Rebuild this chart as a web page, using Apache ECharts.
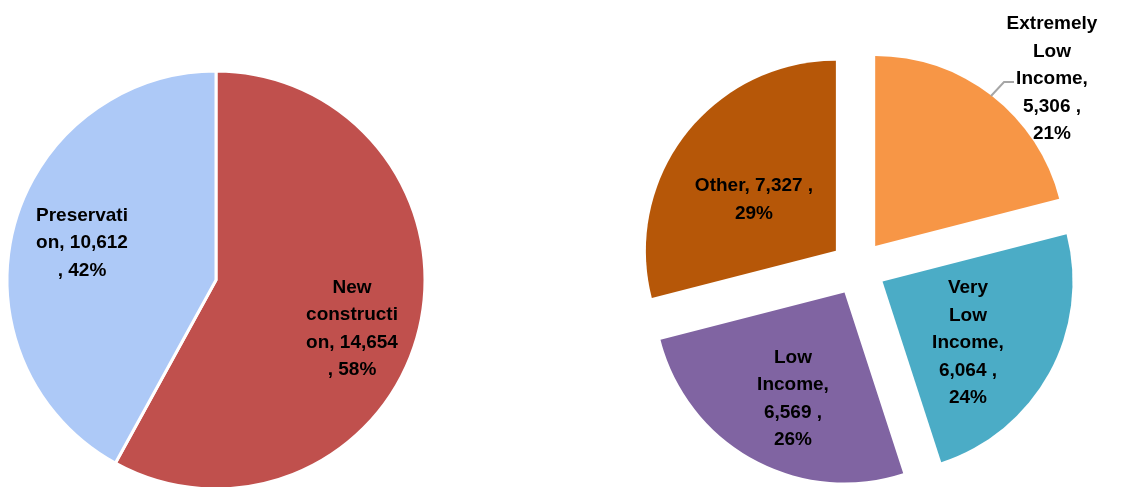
<!DOCTYPE html>
<html>
<head>
<meta charset="utf-8">
<script src="https://cdn.jsdelivr.net/npm/echarts@6/dist/echarts.min.js"></script>
<style>
html,body{margin:0;padding:0;background:#fff;}
#chart{width:1123px;height:487px;}
</style>
</head>
<body>
<div id="chart"></div>
<script>
// Left pie: construction type
const typeNames = ['New construction', 'Preservation'];
const typeValues = [14654, 10612];
const typePercents = [58, 42];
const typeLabelLines = [
  ['New', 'constructi', 'on, 14,654', ', 58%'],
  ['Preservati', 'on, 10,612', ', 42%']
];
// Right pie: income level
const incomeNames = ['Extremely Low Income', 'Very Low Income', 'Low Income', 'Other'];
const incomeValues = [5306, 6064, 6569, 7327];
const incomePercents = [21, 24, 26, 29];
const incomeLabelLines = [
  ['Extremely', 'Low', 'Income,', '5,306 ,', '21%'],
  ['Very', 'Low', 'Income,', '6,064 ,', '24%'],
  ['Low', 'Income,', '6,569 ,', '26%'],
  ['Other, 7,327 ,', '29%']
];

// styling / layout (not data)
const typeColors = ['#C0504D', '#ADC9F7'];
const incomeColors = ['#F79646', '#4BACC6', '#8064A2', '#B65708'];
const typeLabelAnchors = [[352, 329], [82, 243]];
const incomeLabelAnchors = [[1052, 79], [968, 343], [793, 399], [754, 200]];

const labelFont = {
  fontFamily: 'Liberation Sans',
  fontWeight: 'bold',
  fontSize: 19,
  lineHeight: 27.5,
  color: '#000',
  align: 'center'
};

function makeLayout(anchors) {
  return function (p) {
    const a = anchors[p.dataIndex];
    return { x: a[0], y: a[1], align: 'center', verticalAlign: 'middle' };
  };
}

const chart = echarts.init(document.getElementById('chart'), null, { renderer: 'canvas' });
chart.setOption({
  animation: false,
  backgroundColor: '#fff',
  series: [
    {
      type: 'pie',
      center: [216, 280],
      radius: 209,
      startAngle: 90,
      clockwise: true,
      silent: true,
      itemStyle: { borderColor: '#fff', borderWidth: 3 },
      label: Object.assign({ show: true, position: 'inside',
        formatter: p => typeLabelLines[p.dataIndex].join('\n') }, labelFont),
      labelLine: { show: false },
      labelLayout: makeLayout(typeLabelAnchors),
      data: typeNames.map((n, i) => ({ name: n, value: typeValues[i], itemStyle: { color: typeColors[i] } }))
    },
    {
      // exploded slices
      type: 'pie',
      center: [858, 268],
      radius: 190,
      startAngle: 90,
      clockwise: true,
      silent: true,
      selectedMode: 'multiple',
      selectedOffset: 28,
      itemStyle: { borderWidth: 0 },
      label: { show: false },
      labelLine: { show: false },
      data: incomeNames.map((n, i) => ({ name: n, value: incomeValues[i], selected: true, itemStyle: { color: incomeColors[i] } }))
    },
    {
      // labels for the exploded pie
      type: 'pie',
      center: [858, 268],
      radius: 190,
      startAngle: 90,
      clockwise: true,
      silent: true,
      z: 5,
      itemStyle: { color: 'rgba(0,0,0,0)', borderWidth: 0 },
      label: Object.assign({ show: true, position: 'inside',
        formatter: p => incomeLabelLines[p.dataIndex].join('\n') }, labelFont),
      labelLine: { show: false },
      labelLayout: makeLayout(incomeLabelAnchors),
      data: incomeNames.map((n, i) => ({ name: n, value: incomeValues[i] }))
    }
  ],
  graphic: [
    {
      type: 'polyline',
      shape: { points: [[991, 96], [1004, 82], [1014, 82]] },
      style: { stroke: '#A6A6A6', lineWidth: 2, fill: null },
      silent: true,
      z: 10
    }
  ]
});
</script>
</body>
</html>
